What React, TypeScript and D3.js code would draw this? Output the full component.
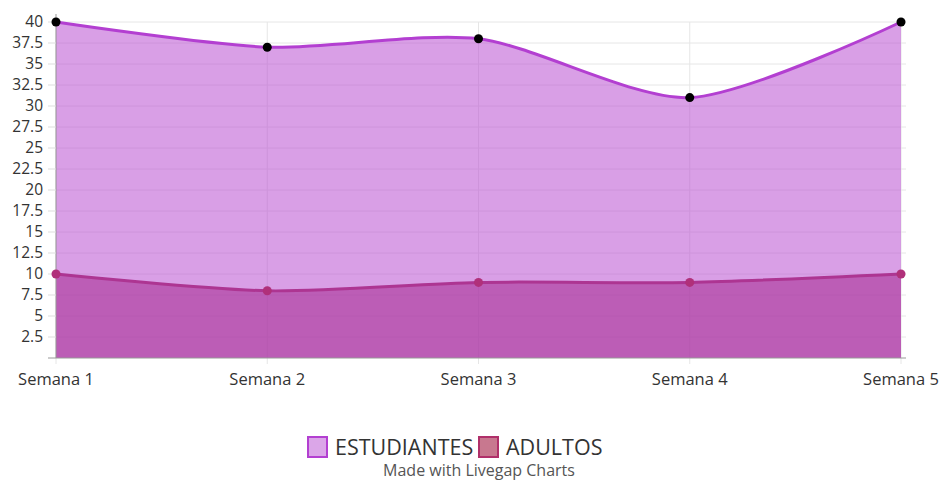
import { useMemo } from 'react';
import * as d3 from 'd3';

const categories = ['Semana 1', 'Semana 2', 'Semana 3', 'Semana 4', 'Semana 5'];
const estudiantes = [40, 37, 38, 31, 40];
const adultos = [10, 8, 9, 9, 10];
const yTicks = [2.5, 5, 7.5, 10, 12.5, 15, 17.5, 20, 22.5, 25, 27.5, 30, 32.5, 35, 37.5, 40];

const WIDTH = 939;
const HEIGHT = 482;
const FONT = '"Open Sans", sans-serif';

export default function App() {
  const x = useMemo(
    () => d3.scalePoint<string>().domain(categories).range([56, 901]),
    [],
  );
  const y = useMemo(() => d3.scaleLinear().domain([0, 40]).range([358, 22]), []);

  const curve = d3.curveCardinal.tension(0.2);

  const area = (vals: number[]) =>
    d3
      .area<number>()
      .x((_, i) => x(categories[i])!)
      .y0(y(0))
      .y1((d) => y(d))
      .curve(curve)(vals)!;
  const line = (vals: number[]) =>
    d3
      .line<number>()
      .x((_, i) => x(categories[i])!)
      .y((d) => y(d))
      .curve(curve)(vals)!;

  return (
    <div>
      <style>{'body{margin:0}'}</style>
      <svg width={WIDTH} height={HEIGHT} style={{ display: 'block', fontFamily: FONT }}>
        {/* grid */}
        {yTicks.map((t) => (
          <line key={t} x1={56} x2={906} y1={y(t)} y2={y(t)} stroke="#e6e6e6" />
        ))}
        {categories.map((c) => (
          <line key={c} x1={x(c)} x2={x(c)} y1={y(40)} y2={y(0) + 6} stroke="#e6e6e6" />
        ))}

        {/* estudiantes */}
        <path d={area(estudiantes)} fill="rgba(185,80,210,0.55)" />
        <path d={line(estudiantes)} fill="none" stroke="#b33fd1" strokeWidth={3} />

        {/* adultos */}
        <path d={area(adultos)} fill="rgba(168,50,150,0.6)" />
        <path d={line(adultos)} fill="none" stroke="#ad3592" strokeWidth={3} />

        {/* axes */}
        <line x1={56} x2={56} y1={14} y2={358} stroke="#999" />
        <line x1={48} x2={906} y1={358} y2={358} stroke="#999" />
        {yTicks.map((t) => (
          <g key={t}>
            <line x1={48} x2={56} y1={y(t)} y2={y(t)} stroke="#ddd" />
            <text x={43} y={y(t)} dy="0.35em" textAnchor="end" fontSize={15.5} fill="#333">
              {t}
            </text>
          </g>
        ))}
        {categories.map((c) => (
          <text key={c} x={x(c)} y={385} textAnchor="middle" fontSize={16.5} fill="#333">
            {c}
          </text>
        ))}

        {/* points */}
        {estudiantes.map((v, i) => (
          <circle key={'e' + i} cx={x(categories[i])} cy={y(v)} r={4.5} fill="#000" />
        ))}
        {adultos.map((v, i) => (
          <circle key={'a' + i} cx={x(categories[i])} cy={y(v)} r={4.5} fill="#b0307a" />
        ))}

        {/* legend */}
        <rect x={308} y={437} width={19} height={20} fill="#dba6e8" stroke="#b33fd1" strokeWidth={2} />
        <text x={335} y={455} fontSize={21.5} fill="#333">ESTUDIANTES</text>
        <rect x={479} y={437} width={19} height={20} fill="#c8788f" stroke="#b0306a" strokeWidth={2} />
        <text x={506} y={455} fontSize={21.5} fill="#333">ADULTOS</text>
        <text x={479} y={476} textAnchor="middle" fontSize={16} fill="#555">
          Made with Livegap Charts
        </text>
      </svg>
    </div>
  );
}
